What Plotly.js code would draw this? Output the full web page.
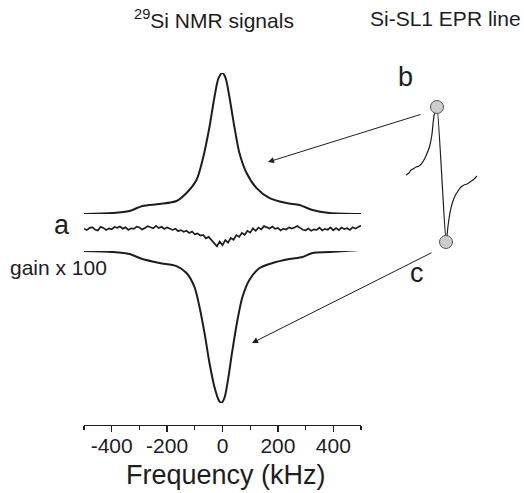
<!DOCTYPE html>
<html>
<head>
<meta charset="utf-8">
<script src="https://cdn.plot.ly/plotly-3.0.1.min.js"></script>
<style>
  html, body { margin: 0; padding: 0; background: #ffffff; }
  #chart { width: 524px; height: 493px; }
</style>
</head>
<body>
<div id="chart"></div>
<script>
// 29Si NMR spectra (kHz offset) and the Si-SL1 EPR line

// Upper NMR spectrum, recorded at EPR position b (normalised intensity)
const freqB = [-500, -397, -336, -289, -227, -166, -130, -94, -72, -47, -29, -14, 0,
               11, 25, 43, 61, 87, 123, 170, 231, 278, 325, 386, 500];
const signalB = [0, 0.007, 0.021, 0.057, 0.071, 0.092, 0.149, 0.241, 0.383, 0.617, 0.83, 0.965, 1,
                 0.965, 0.83, 0.617, 0.433, 0.291, 0.184, 0.113, 0.078, 0.064, 0.028, 0.007, 0];

// Off-resonance trace a, gain x 100
const freqA = [];
for (let f = -500; f <= 500; f += 10) freqA.push(f);
const signalA = [0.02, -0.06, 0.05, 0.10, -0.04, -0.08, 0.12, 0.06, -0.05, 0.03,
                 -0.02, 0.11, 0.07, 0.14, 0.02, 0.09, -0.05, 0.04, 0.01, 0.13,
                 0.08, -0.03, 0.06, 0.15, 0.10, 0.04, 0.17, 0.05, 0.12, 0.00,
                 0.09,
                 0.03, -0.05, 0.02, -0.12, -0.06, -0.15, -0.10, -0.22, -0.14, -0.30,
                 -0.25, -0.36, -0.33, -0.52, -0.44, -0.60, -0.80, -0.96, -0.70, -0.90,
                 -0.62, -0.76, -0.50, -0.60, -0.34, -0.44, -0.22, -0.32, -0.10, -0.20,
                 0.04, -0.10, 0.08, -0.02, 0.16, 0.09, 0.03, 0.14, 0.01, 0.06,
                 -0.08, 0.02, -0.03, 0.09, 0.02, 0.08, 0.17, 0.06, -0.04, -0.07,
                 0.02, -0.10, -0.02, -0.05, 0.07, -0.08, 0.01, -0.04, 0.09, -0.07,
                 0.05, -0.06, 0.08, -0.01, 0.04, -0.05, 0.10, 0.02, 0.13, 0.20];

// Lower NMR spectrum, recorded at EPR position c (inverted)
const freqC = [-500, -397, -336, -289, -227, -166, -130, -101, -83, -65, -47, -29, -14, -4,
               7, 18, 36, 54, 72, 97, 134, 181, 242, 289, 325, 386, 500];
const signalC = [0, -0.007, -0.02, -0.053, -0.079, -0.099, -0.145, -0.237, -0.368, -0.539, -0.737, -0.895, -0.98, -1,
                 -0.967, -0.868, -0.651, -0.454, -0.303, -0.191, -0.112, -0.079, -0.053, -0.039, -0.013, -0.007, 0.007];

// Si-SL1 EPR derivative line (field offset in G, normalised signal)
const eprField = [-17.75, -16.25, -15.25, -14.25, -12.75, -11.25, -9.75, -8.25, -6.75, -5.75,
                  -4.75, -4.25, -3.75, -2.75, -2.25,
                  2.25, 2.75, 3.25, 4.25, 5.25, 6.75, 8.25, 9.75, 11.25, 12.75, 14.25, 15.75, 17.75];
const eprSignal = [-0.007, 0.022, 0.067, 0.081, 0.111, 0.126, 0.170, 0.244, 0.348, 0.437,
                   0.600, 0.748, 0.867, 0.970, 1.0,
                   -1.0, -0.911, -0.763, -0.570, -0.437, -0.319, -0.244, -0.185, -0.156, -0.141, -0.111, -0.081, -0.022];

const freqTicks = [-400, -200, 0, 200, 400];
const freqTickText = ['-400', '-200', '0', '200', '400'];

// positions of the two EPR field settings used for the NMR spectra
const iMax = eprSignal.indexOf(Math.max(...eprSignal));
const iMin = eprSignal.indexOf(Math.min(...eprSignal));

const W = 524, H = 493;
const px = x => x / W;          // page pixel -> paper x
const py = y => 1 - y / H;      // page pixel -> paper y

const ink = '#1e1c1d';
const FONT = 'Liberation Sans, Arial, Helvetica, sans-serif';

const traces = [
  { x: freqB, y: signalB, xaxis: 'x', yaxis: 'y', mode: 'lines', cliponaxis: false,
    line: { color: ink, width: 2, shape: 'spline', smoothing: 0.8 }, hoverinfo: 'skip' },
  { x: freqA, y: signalA, xaxis: 'x', yaxis: 'y2', mode: 'lines', cliponaxis: false,
    line: { color: ink, width: 1.7 }, hoverinfo: 'skip' },
  { x: freqC, y: signalC, xaxis: 'x', yaxis: 'y3', mode: 'lines', cliponaxis: false,
    line: { color: ink, width: 2, shape: 'spline', smoothing: 0.8 }, hoverinfo: 'skip' },
  { x: eprField, y: eprSignal, xaxis: 'x2', yaxis: 'y4', mode: 'lines', cliponaxis: false,
    line: { color: ink, width: 1.2, shape: 'spline', smoothing: 0.6 }, hoverinfo: 'skip' },
  { x: [eprField[iMax], eprField[iMin]], y: [eprSignal[iMax], eprSignal[iMin]],
    xaxis: 'x2', yaxis: 'y4', mode: 'markers', cliponaxis: false,
    marker: { size: 13, color: '#cccccc', line: { color: '#555555', width: 1 } }, hoverinfo: 'skip' }
];

const hidden = { visible: false, fixedrange: true };

const layout = {
  width: W, height: H,
  margin: { l: 0, r: 0, t: 0, b: 0 },
  paper_bgcolor: '#ffffff', plot_bgcolor: 'rgba(0,0,0,0)',
  showlegend: false,
  font: { family: FONT, color: ink },
  xaxis: {
    domain: [px(84), px(361)], range: [-500, 500],
    anchor: 'free', position: py(425),
    showline: true, linecolor: ink, linewidth: 1.3,
    showgrid: false, zeroline: false,
    ticks: 'outside', ticklen: 6, tickwidth: 1.3, tickcolor: ink,
    tickmode: 'array', tickvals: freqTicks, ticktext: freqTickText,
    ticklabelstandoff: -5,
    tickfont: { family: FONT, size: 21, color: ink },
    minor: { tickmode: 'linear', tick0: -500, dtick: 100, ticks: 'outside', ticklen: 4, tickwidth: 1.3, tickcolor: ink },
    fixedrange: true
  },
  yaxis: Object.assign({ domain: [py(214), py(73)], range: [0, 1], anchor: 'x' }, hidden),
  yaxis2: Object.assign({ domain: [py(250.6), py(218.2)], range: [-1.2, 0.6], anchor: 'x' }, hidden),
  yaxis3: Object.assign({ domain: [py(403), py(251)], range: [-1, 0], anchor: 'x' }, hidden),
  xaxis2: Object.assign({ domain: [px(401.5), px(481.5)], range: [-20, 20], anchor: 'y4' }, hidden),
  yaxis4: Object.assign({ domain: [py(242), py(107)], range: [-1, 1], anchor: 'x2' }, hidden),
  annotations: [
    { text: '<sup>29</sup>Si NMR signals', x: px(214), y: py(19), xref: 'paper', yref: 'paper',
      xanchor: 'center', yanchor: 'middle', showarrow: false, font: { size: 21 } },
    { text: 'Si-SL1 EPR line', x: px(445), y: py(19), xref: 'paper', yref: 'paper',
      xanchor: 'center', yanchor: 'middle', showarrow: false, font: { size: 21 } },
    { text: 'a', x: px(62), y: py(225), xref: 'paper', yref: 'paper',
      xanchor: 'center', yanchor: 'middle', showarrow: false, font: { size: 27 } },
    { text: 'gain x 100', x: px(8), y: py(267), xref: 'paper', yref: 'paper',
      xanchor: 'left', yanchor: 'middle', showarrow: false, font: { size: 21 } },
    { text: 'b', x: px(405), y: py(77), xref: 'paper', yref: 'paper',
      xanchor: 'center', yanchor: 'middle', showarrow: false, font: { size: 27 } },
    { text: 'c', x: px(417), y: py(273), xref: 'paper', yref: 'paper',
      xanchor: 'center', yanchor: 'middle', showarrow: false, font: { size: 27 } },
    { text: 'Frequency (kHz)', x: px(226), y: py(475), xref: 'paper', yref: 'paper',
      xanchor: 'center', yanchor: 'middle', showarrow: false, font: { size: 27 } },
    // arrows from the EPR field positions to the corresponding NMR spectra
    { text: '', x: px(268), y: py(162), xref: 'paper', yref: 'paper',
      ax: px(422), ay: py(114), axref: 'paper', ayref: 'paper',
      showarrow: true, arrowhead: 2, arrowsize: 1.2, arrowwidth: 1, arrowcolor: ink },
    { text: '', x: px(252), y: py(343), xref: 'paper', yref: 'paper',
      ax: px(433), ay: py(252), axref: 'paper', ayref: 'paper',
      showarrow: true, arrowhead: 2, arrowsize: 1.2, arrowwidth: 1, arrowcolor: ink }
  ]
};

Plotly.newPlot('chart', traces, layout, { displayModeBar: false, staticPlot: true });
</script>
</body>
</html>
